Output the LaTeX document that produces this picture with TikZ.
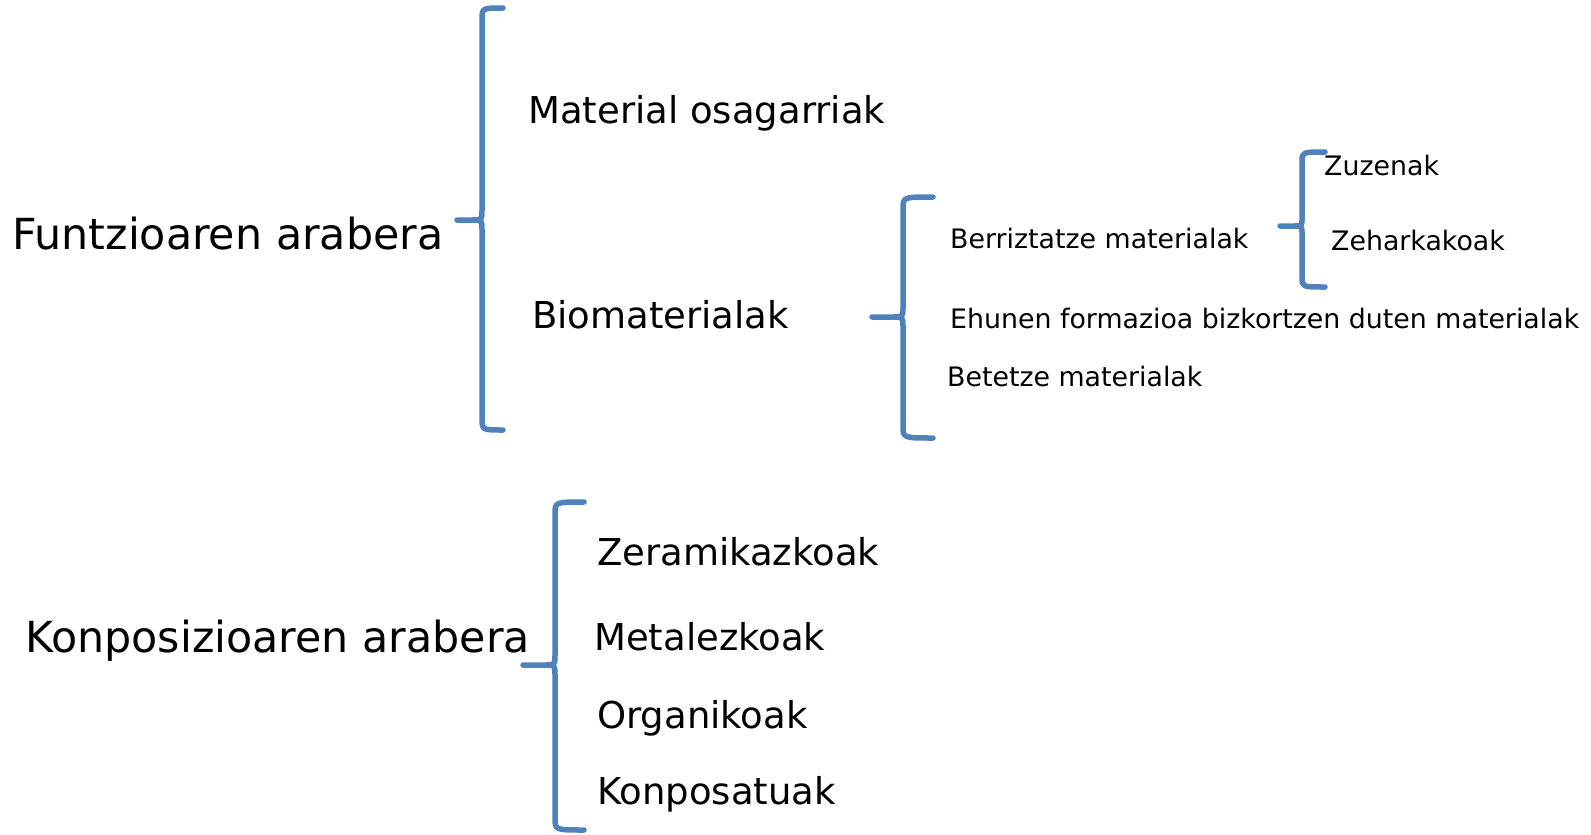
\documentclass[tikz,border=0pt]{standalone}
\usepackage{fontspec}
\setmainfont{DejaVu Sans}
\definecolor{braceblue}{RGB}{79,129,189}

\begin{document}
\begin{tikzpicture}[x=1pt,y=-1pt,
	brace/.style={draw=braceblue,line width=5.5pt,line cap=round,line join=round},
	bigtxt/.style={inner sep=0pt,anchor=base west,font=\fontsize{42.8}{50}\selectfont},
	midtxt/.style={inner sep=0pt,anchor=base west,font=\fontsize{37}{44}\selectfont},
	smalltxt/.style={inner sep=0pt,anchor=base west,font=\fontsize{26.8}{32}\selectfont}]
	\useasboundingbox (0,0) rectangle (1591,835);
	% first split
	\node[bigtxt] (funtz) at (12,249) {Funtzioaren arabera};
	\draw[brace] (503,8) .. controls (482,8) .. (482,20) -- (482,210) .. controls (482,220) .. (472,220) -- (457,220)
		-- (472,220) .. controls (482,220) .. (482,230) -- (482,418) .. controls (482,430) .. (503,430);
	\node[midtxt] (osag) at (528,123) {Material osagarriak};
	\node[midtxt] (bio) at (532,328) {Biomaterialak};
	% biomaterials
	\draw[brace] (933,197) .. controls (903,197) .. (903,209) -- (903,307) .. controls (903,317) .. (893,317) -- (872,317)
		-- (893,317) .. controls (903,317) .. (903,327) -- (903,426) .. controls (903,438) .. (933,438);
	\node[smalltxt] (berri) at (950,248) {Berriztatze materialak};
	\node[smalltxt] (ehun) at (950,328) {Ehunen formazioa bizkortzen duten materialak};
	\node[smalltxt] (betetze) at (947,386) {Betetze materialak};
	\draw[brace] (1325,152) .. controls (1302,152) .. (1302,162) -- (1302,218) .. controls (1302,226) .. (1294,226) -- (1280,226)
		-- (1294,226) .. controls (1302,226) .. (1302,234) -- (1302,277) .. controls (1302,287) .. (1325,287);
	\node[smalltxt] (zuzen) at (1324,175) {Zuzenak};
	\node[smalltxt] (zehar) at (1331,250) {Zeharkakoak};
	% second split
	\node[bigtxt] (konpo) at (25,652) {Konposizioaren arabera};
	\draw[brace] (584,502) .. controls (555,502) .. (555,514) -- (555,655) .. controls (555,665) .. (545,665) -- (523,665)
		-- (545,665) .. controls (555,665) .. (555,675) -- (555,818) .. controls (555,830) .. (584,830);
	\node[midtxt] (zeram) at (597,565) {Zeramikazkoak};
	\node[midtxt] (metal) at (594,650) {Metalezkoak};
	\node[midtxt] (organ) at (597,728) {Organikoak};
	\node[midtxt] (konpos) at (597,804) {Konposatuak};
\end{tikzpicture}
\end{document}
